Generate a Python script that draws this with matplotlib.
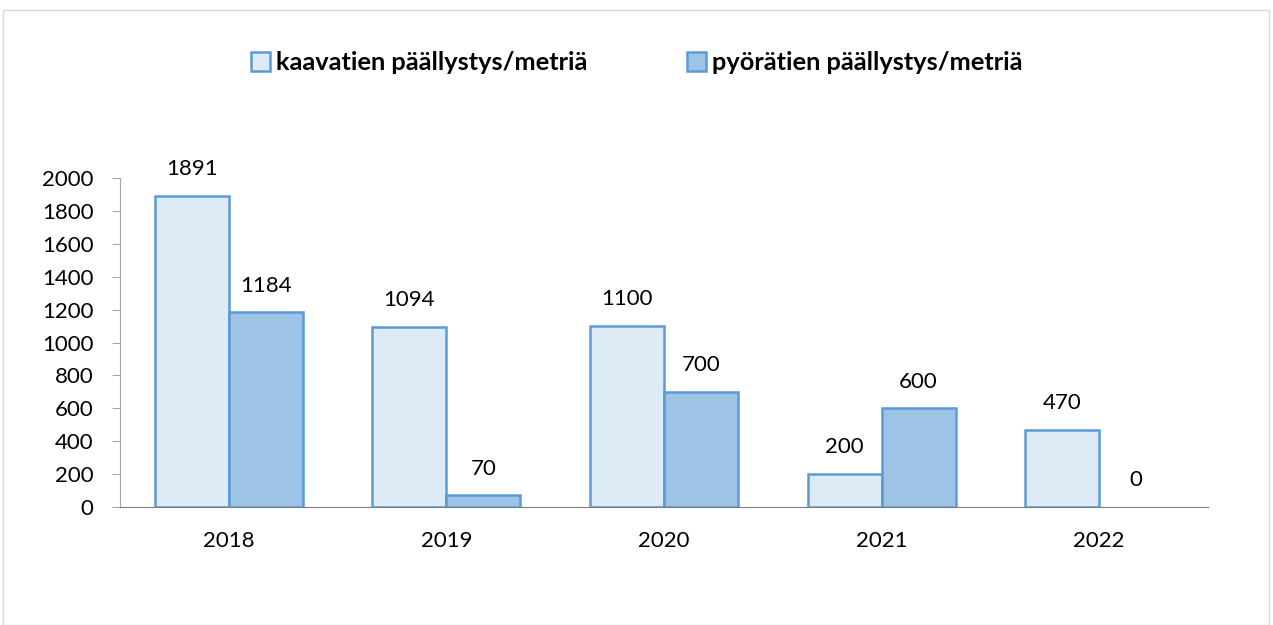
import matplotlib
matplotlib.use("Agg")
import matplotlib.pyplot as plt
import numpy as np
from matplotlib.patches import Rectangle

years = ["2018", "2019", "2020", "2021", "2022"]
kaavatiet = [1891, 1094, 1100, 200, 470]
pyoratiet = [1184, 70, 700, 600, 0]
series_names = ["kaavatien päällystys/metriä", "pyörätien päällystys/metriä"]

plt.rcParams['font.family'] = ['Lato', 'DejaVu Sans']

W, H = 1273, 625
fig = plt.figure(figsize=(W/100, H/100), dpi=100)
fig.patches.append(Rectangle((3/W, 0), (1269-3)/W, 1 - 10/H, transform=fig.transFigure,
                             fill=False, edgecolor='#D9D9D9', linewidth=1))

ax = fig.add_axes([120/W, 1-507/H, (1208-120)/W, (507-178)/H])
x = np.arange(len(years))
w = 0.34
edge = '#5B9BD5'
fs = 16
b1 = ax.bar(x - w/2, kaavatiet, w, color='#DDEBF7', edgecolor=edge, linewidth=1.8, label=series_names[0])
b2 = ax.bar(x + w/2, pyoratiet, w, color='#9DC3E6', edgecolor=edge, linewidth=1.8, label=series_names[1])
for r, v in zip(b2, pyoratiet):
    if v == 0:
        r.set_linewidth(0)

for bars, vals in ((b1, kaavatiet), (b2, pyoratiet)):
    for r, v in zip(bars, vals):
        ax.annotate(str(v), (r.get_x() + r.get_width()/2, v), xytext=(0, 12),
                    textcoords='offset points', ha='center', va='bottom', fontsize=fs)

ax.set_xlim(-0.5, len(years) - 0.5)
ax.set_ylim(0, 2000)
ax.set_yticks(range(0, 2001, 200))
ax.set_xticks(x)
ax.set_xticklabels(years)
for s in ['top', 'right']:
    ax.spines[s].set_visible(False)
ax.spines['left'].set_color('#A6A6A6')
ax.spines['bottom'].set_color('#7F7F7F')
ax.tick_params(axis='y', length=6, color='#A6A6A6', labelsize=fs, pad=13)
ax.tick_params(axis='x', length=0, labelsize=fs, pad=17)

fig.legend(handles=[b1, b2], loc='center', bbox_to_anchor=(0.5, 1 - 63/H), ncol=2,
           frameon=False, prop={'weight': 'bold', 'size': 18.3}, columnspacing=3.9,
           handlelength=0.75, handleheight=0.75, handletextpad=0.25)

fig.savefig("out.png", dpi=100)
